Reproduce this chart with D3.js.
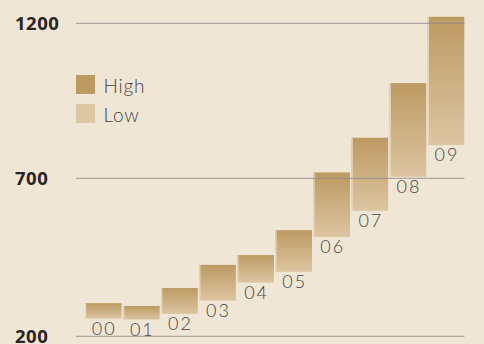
<!DOCTYPE html>
<html>
<head>
<meta charset="utf-8">
<script src="https://cdn.jsdelivr.net/npm/d3@7"></script>
<style>
  html, body { margin: 0; padding: 0; background: #f0e6d6; }
  svg { display: block; }
</style>
</head>
<body>
<svg id="chart" width="484" height="344"></svg>
<script>

// data
var years = ['00','01','02','03','04','05','06','07','08','09'];
var highs = [305, 296, 353, 426, 457, 536, 719, 831, 1007, 1221];
var lows  = [256, 253, 271, 313, 370, 404, 514, 597, 705, 807];
var yTicks = [200, 700, 1200];
var legendNames = ['High', 'Low'];

var svg = d3.select('#chart');
svg.append('rect').attr('width', 484).attr('height', 344).attr('fill', '#f0e6d6');

var x = d3.scaleBand().domain(years).range([85, 464.3]).paddingInner(0.039).paddingOuter(0);
var y = d3.scaleLinear().domain([200, 700, 1200]).range([336.3, 178.3, 23.3]);

var defs = svg.append('defs');
var grad = defs.append('linearGradient').attr('id', 'barGrad')
    .attr('x1', 0).attr('y1', 0).attr('x2', 0).attr('y2', 1);
grad.append('stop').attr('offset', '0%').attr('stop-color', '#bd9a62');
grad.append('stop').attr('offset', '100%').attr('stop-color', '#dcc5a1');

var bars = svg.append('g').selectAll('g')
    .data(years).enter().append('g');

bars.append('rect')
    .attr('x', function(d){ return x(d); })
    .attr('y', function(d, i){ return y(highs[i]); })
    .attr('width', x.bandwidth())
    .attr('height', function(d, i){ return y(lows[i]) - y(highs[i]); })
    .attr('fill', 'url(#barGrad)');

// light edge on the left of each bar
bars.append('rect')
    .attr('x', function(d){ return x(d); })
    .attr('y', function(d, i){ return y(highs[i]); })
    .attr('width', 1.2)
    .attr('height', function(d, i){ return y(lows[i]) - y(highs[i]); })
    .attr('fill', '#e8d8be');

bars.append('text')
    .attr('x', function(d){ return x(d) + x.bandwidth() / 2 + 1; })
    .attr('y', function(d, i){ return y(lows[i]) + 16; })
    .attr('text-anchor', 'middle')
    .style('font-family', 'Lato, "DejaVu Sans", sans-serif')
    .style('font-weight', 300)
    .style('font-size', '18px')
    .style('letter-spacing', '2px')
    .style('fill', '#4a4242')
    .text(function(d){ return d; });

// grid lines sit over the bars
var grid = svg.append('g');
grid.selectAll('line').data(yTicks).enter().append('line')
    .attr('x1', 76).attr('x2', 464.5)
    .attr('y1', function(d){ return y(d); })
    .attr('y2', function(d){ return y(d); })
    .attr('stroke', '#8f8a86')
    .attr('stroke-opacity', 0.85)
    .attr('stroke-width', 1);

grid.selectAll('text').data(yTicks).enter().append('text')
    .attr('x', 15)
    .attr('y', function(d){ return y(d) + 7; })
    .style('font-family', '"Open Sans", sans-serif')
    .style('font-weight', 700)
    .style('font-size', '18.5px')
    .style('letter-spacing', '0.5px')
    .style('fill', '#2a2424')
    .text(function(d){ return d; });

// legend
var legend = svg.append('g').selectAll('g')
    .data(legendNames).enter().append('g')
    .attr('transform', function(d, i){ return 'translate(76,' + (75 + i * 29) + ')'; });
legend.append('rect')
    .attr('width', 19).attr('height', 19)
    .attr('fill', function(d, i){ return i == 0 ? '#bd9a62' : '#dec7a5'; });
legend.append('text')
    .attr('x', 27.5).attr('y', 17.5)
    .style('font-family', 'Lato, "DejaVu Sans", sans-serif')
    .style('font-weight', 300)
    .style('font-size', '19px')
    .style('letter-spacing', '0.8px')
    .style('fill', '#4a4242')
    .text(function(d){ return d; });

</script>
</body>
</html>
